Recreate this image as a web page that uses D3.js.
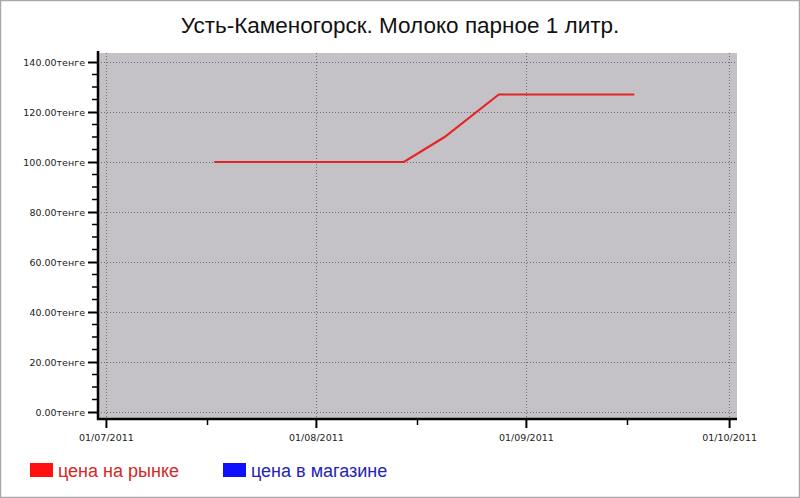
<!DOCTYPE html>
<html>
<head>
<meta charset="utf-8">
<script src="https://cdn.jsdelivr.net/npm/d3@7"></script>
<style>
  body { margin: 0; background: #fff; }
  svg { display: block; }
</style>
</head>
<body>
<div id="chart"></div>
<script>
// prices
var marketDates = ["2011-07-17", "2011-07-24", "2011-07-31", "2011-08-07", "2011-08-14",
                   "2011-08-20", "2011-08-28", "2011-09-04", "2011-09-11", "2011-09-17"];
var marketPrices = [100, 100, 100, 100, 100, 110, 127, 127, 127, 127];
var monthTicks = ["2011-07-01", "2011-08-01", "2011-09-01", "2011-10-01"];
var midTicks = ["2011-07-16", "2011-08-16", "2011-09-16"];
var yTicks = [0, 20, 40, 60, 80, 100, 120, 140];
var legendNames = ["цена на рынке", "цена в магазине"];

var W = 800, H = 498;
var plot = {left: 98, right: 737, top: 53, bottom: 419};

var parse = d3.utcParse("%Y-%m-%d");
var fmt = d3.utcFormat("%d/%m/%Y");

var svg = d3.select("#chart").append("svg")
    .attr("width", W)
    .attr("height", H);

// frame
svg.append("rect")
    .attr("x", 0.5).attr("y", 0.5)
    .attr("width", W - 1).attr("height", H - 1)
    .attr("fill", "#fff")
    .attr("stroke", "#a8a8a8")
    .attr("stroke-width", 1.5);

svg.append("text")
    .attr("x", 400)
    .attr("y", 33)
    .attr("text-anchor", "middle")
    .attr("font-family", "Liberation Sans, Arial, sans-serif")
    .attr("font-size", 22.5)
    .attr("fill", "#111")
    .text("Усть-Каменогорск. Молоко парное 1 литр.");

var x = d3.scaleUtc()
    .domain([new Date(Date.UTC(2011, 5, 29, 20)), new Date(Date.UTC(2011, 9, 2, 4))])
    .range([plot.left, plot.right]);

var y = d3.scaleLinear()
    .domain([-2.8, 143.6])
    .range([plot.bottom, plot.top]);

svg.append("rect")
    .attr("x", plot.left)
    .attr("y", plot.top)
    .attr("width", plot.right - plot.left)
    .attr("height", plot.bottom - plot.top)
    .attr("fill", "#c4c2c6");

// grid
var grid = svg.append("g")
    .attr("stroke", "#6f6d70")
    .attr("stroke-width", 1)
    .attr("stroke-dasharray", "1,2");

grid.selectAll("line.h")
    .data(yTicks)
    .enter().append("line")
    .attr("class", "h")
    .attr("x1", plot.left).attr("x2", plot.right)
    .attr("y1", function(d) { return Math.round(y(d)) + 0.5; })
    .attr("y2", function(d) { return Math.round(y(d)) + 0.5; });

grid.selectAll("line.v")
    .data(monthTicks.map(parse))
    .enter().append("line")
    .attr("class", "v")
    .attr("y1", plot.top).attr("y2", plot.bottom)
    .attr("x1", function(d) { return Math.round(x(d)) + 0.5; })
    .attr("x2", function(d) { return Math.round(x(d)) + 0.5; });

// market price line
var line = d3.line()
    .x(function(d, i) { return x(parse(marketDates[i])); })
    .y(function(d) { return y(d); });

svg.append("path")
    .datum(marketPrices)
    .attr("fill", "none")
    .attr("stroke", "#e42525")
    .attr("stroke-width", 2.2)
    .attr("d", line);

// y axis
var yAxis = svg.append("g")
    .attr("transform", "translate(" + plot.left + ",0)")
    .call(d3.axisLeft(y).tickValues(yTicks).tickSize(10).tickPadding(3)
        .tickFormat(function(d) { return d3.format(".2f")(d) + "тенге"; }));

yAxis.select(".domain").remove();
yAxis.selectAll(".tick line").attr("stroke", "#000").attr("stroke-width", 2);
yAxis.selectAll("text")
    .attr("font-family", "DejaVu Sans, Verdana, sans-serif")
    .attr("font-size", 9.5)
    .attr("fill", "#222");

var yMinor = d3.range(0, 141, 5).filter(function(v) { return v % 20 !== 0; });
svg.append("g").selectAll("line")
    .data(yMinor)
    .enter().append("line")
    .attr("x1", plot.left - 6).attr("x2", plot.left)
    .attr("y1", function(d) { return y(d); })
    .attr("y2", function(d) { return y(d); })
    .attr("stroke", "#000")
    .attr("stroke-width", 1.5);

svg.append("line")
    .attr("x1", plot.left).attr("x2", plot.left)
    .attr("y1", plot.top - 2).attr("y2", plot.bottom + 1)
    .attr("stroke", "#000")
    .attr("stroke-width", 2.5);

// x axis
var xAxis = svg.append("g")
    .attr("transform", "translate(0," + plot.bottom + ")")
    .call(d3.axisBottom(x).tickValues(monthTicks.map(parse)).tickSize(9).tickPadding(6)
        .tickFormat(fmt));

xAxis.select(".domain").remove();
xAxis.selectAll(".tick line").attr("stroke", "#000").attr("stroke-width", 2);
xAxis.selectAll("text")
    .attr("font-family", "DejaVu Sans, Verdana, sans-serif")
    .attr("font-size", 9.5)
    .attr("fill", "#222");

svg.append("g").selectAll("line")
    .data(midTicks.map(parse))
    .enter().append("line")
    .attr("x1", function(d) { return x(d); })
    .attr("x2", function(d) { return x(d); })
    .attr("y1", plot.bottom).attr("y2", plot.bottom + 6)
    .attr("stroke", "#000")
    .attr("stroke-width", 1.5);

svg.append("line")
    .attr("x1", plot.left - 1).attr("x2", plot.right)
    .attr("y1", plot.bottom).attr("y2", plot.bottom)
    .attr("stroke", "#000")
    .attr("stroke-width", 2.5);

// legend
var legendColors = ["#ff1010", "#1010ff"];
var legendText = ["#d42828", "#2424b4"];
var legend = svg.append("g").selectAll("g")
    .data(legendNames)
    .enter().append("g")
    .attr("transform", function(d, i) { return "translate(" + (30 + i * 193) + ",463)"; });

legend.append("rect")
    .attr("width", 23)
    .attr("height", 14)
    .attr("fill", function(d, i) { return legendColors[i]; });

legend.append("text")
    .attr("x", 28)
    .attr("y", 13.5)
    .attr("font-family", "Liberation Sans, Arial, sans-serif")
    .attr("font-size", 18)
    .attr("fill", function(d, i) { return legendText[i]; })
    .text(function(d) { return d; });
</script>
</body>
</html>
